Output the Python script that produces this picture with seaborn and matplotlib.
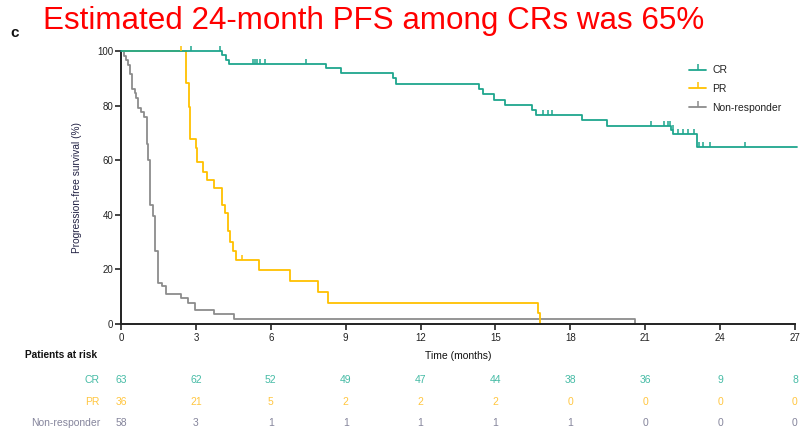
import numpy as np
import pandas as pd
import matplotlib
matplotlib.use("Agg")
import matplotlib.pyplot as plt
from matplotlib.path import Path
from matplotlib.markers import MarkerStyle
from matplotlib.lines import Line2D
import seaborn as sns

# ---------------- data ----------------
groups = ["CR", "PR", "Non-responder"]

cr_time = [0, 4.06, 4.2, 4.32, 8.22, 8.82, 10.9, 11.03, 14.34, 14.5, 14.93, 15.37,
           16.48, 16.64, 18.47, 19.45, 22.05, 22.12, 23.07, 27.1]
cr_surv = [100, 98.4, 96.8, 95.2, 93.6, 92.0, 90.0, 88.0, 86.2, 84.2, 82.2, 80.3,
           78.5, 76.7, 74.8, 72.6, 71.0, 69.6, 65.0, 65.0]
cr_censor = [2.79, 3.97, 5.3, 5.38, 5.45, 5.55, 5.78, 7.42, 16.9, 17.1, 17.28,
             21.25, 21.74, 21.9, 21.98, 22.1, 22.32, 22.52, 22.72, 22.95,
             23.16, 23.32, 23.59, 24.99]

pr_time = [0, 2.61, 2.71, 2.78, 2.99, 3.06, 3.3, 3.46, 3.71, 4.04, 4.18, 4.27,
           4.37, 4.5, 4.6, 5.53, 6.76, 7.9, 8.3, 16.7, 16.8]
pr_surv = [100, 88.2, 79.6, 67.7, 64.4, 59.3, 55.8, 52.8, 49.8, 43.6, 40.6, 33.9,
           30.2, 26.6, 23.5, 19.9, 15.6, 11.6, 7.7, 4.0, 0]
pr_censor = [2.41, 4.86]

nr_time = [0, 0.13, 0.2, 0.27, 0.36, 0.46, 0.55, 0.62, 0.68, 0.8, 0.92, 1.03, 1.1,
           1.15, 1.27, 1.37, 1.47, 1.64, 1.8, 2.4, 2.7, 2.95, 3.72, 4.52, 20.58]
nr_surv = [100, 98.3, 96.6, 94.8, 91.4, 86.2, 84.5, 82.8, 79.3, 77.6, 75.9, 66.0, 60.1,
           43.7, 39.4, 26.6, 15.0, 13.8, 11.1, 9.5, 7.7, 5.2, 3.8, 1.7, 0]
nr_censor = []

risk_times = [0, 3, 6, 9, 12, 15, 18, 21, 24, 27]
risk_cr = [63, 62, 52, 49, 47, 44, 38, 36, 9, 8]
risk_pr = [36, 21, 5, 2, 2, 2, 0, 0, 0, 0]
risk_nr = [58, 3, 1, 1, 1, 1, 1, 0, 0, 0]

title_text = "Estimated 24-month PFS among CRs was 65%"
y_ticks = [0, 20, 40, 60, 80, 100]

# ---------------- style ----------------
sns.set_style("ticks")
plt.rcParams["font.family"] = ["Liberation Sans", "DejaVu Sans"]

colors = {"CR": "#1fa68e", "PR": "#ffc000", "Non-responder": "#8c8c8c"}
table_colors = {"CR": "#45bba5", "PR": "#ffc640", "Non-responder": "#85859c"}

curves = {
    "CR": (cr_time, cr_surv, cr_censor),
    "PR": (pr_time, pr_surv, pr_censor),
    "Non-responder": (nr_time, nr_surv, nr_censor),
}
risk = {"CR": risk_cr, "PR": risk_pr, "Non-responder": risk_nr}

tick_marker = MarkerStyle(Path([(0, 0), (0, 1)]))

fig = plt.figure(figsize=(8.03, 4.34), dpi=100)
ax = fig.add_axes([121 / 803, 1 - 324 / 434, (795 - 121) / 803, (324 - 51) / 434])

for g in ["Non-responder", "PR", "CR"]:
    t, s, cens = curves[g]
    df = pd.DataFrame({"time": t, "surv": s})
    sns.lineplot(data=df, x="time", y="surv", drawstyle="steps-post",
                 estimator=None, sort=False, color=colors[g], linewidth=1.3,
                 ax=ax, clip_on=False, zorder=3 if g == "CR" else 2)
    if len(cens):
        t_arr = np.asarray(t)
        s_arr = np.asarray(s)
        idx = np.searchsorted(t_arr, np.asarray(cens), side="right") - 1
        cdf = pd.DataFrame({"time": cens, "surv": s_arr[idx]})
        sns.scatterplot(data=cdf, x="time", y="surv", marker=tick_marker, s=48,
                        color=colors[g], edgecolor=colors[g], linewidth=1.1,
                        ax=ax, clip_on=False, zorder=4, legend=False)

ax.set_xlim(0, 27)
ax.set_ylim(0, 100)
ax.set_xticks(risk_times)
ax.set_xticklabels([str(v) for v in risk_times])
ax.set_yticks(y_ticks)
ax.set_yticklabels([str(v) for v in y_ticks])
for sp in ["top", "right"]:
    ax.spines[sp].set_visible(False)
for sp in ["left", "bottom"]:
    ax.spines[sp].set_linewidth(1.4)
    ax.spines[sp].set_color("#222222")
ax.tick_params(axis="both", length=4.5, width=1.2, labelsize=7, colors="#222222")
ax.tick_params(axis="x", pad=2)
ax.tick_params(axis="y", pad=1)

ax.set_xlabel("Time (months)", fontsize=7.5, color="#111111")
ax.xaxis.set_label_coords(0.5, (324 - 351) / 273)
ax.set_ylabel("Progression-free survival (%)", fontsize=7.3, color="#222244")
ax.yaxis.set_label_coords((82 - 121) / 674, 0.5)

# legend
handles = [Line2D([0], [0], color=colors[g], lw=1.3, marker=tick_marker,
                  markersize=9, markeredgewidth=1.1) for g in groups]
fig.legend(handles, groups, loc="upper left", bbox_to_anchor=(684 / 803, 1 - 60 / 434),
           bbox_transform=fig.transFigure, frameon=False, fontsize=7.5,
           handlelength=1.6, handletextpad=0.6, labelspacing=0.85, borderpad=0,
           numpoints=1, labelcolor="#222222")

# risk table
fig.text(25 / 803, 1 - 355 / 434, "Patients at risk", fontsize=7.3, fontweight="bold",
         color="#111111", ha="left", va="center")
row_y = {"CR": (324 - 380) / 273, "PR": (324 - 402) / 273, "Non-responder": (324 - 423) / 273}
trans = ax.get_xaxis_transform()
for g in groups:
    ax.text((100 - 121) / 24.96, row_y[g], g, transform=trans, ha="right", va="center",
            fontsize=7.5, color=table_colors[g], clip_on=False)
    for tt, n in zip(risk_times, risk[g]):
        ax.text(tt, row_y[g], str(n), transform=trans, ha="center", va="center",
                fontsize=7.5, color=table_colors[g], clip_on=False)

# titles
fig.text(43 / 803, 1 - 21 / 434, title_text, fontsize=22.6, color="#ff0000",
         ha="left", va="center")
fig.text(10 / 803, 1 - 33 / 434, "c", fontsize=11, fontweight="bold", color="#111111",
         ha="left", va="center")

fig.savefig("out.png", dpi=100)
